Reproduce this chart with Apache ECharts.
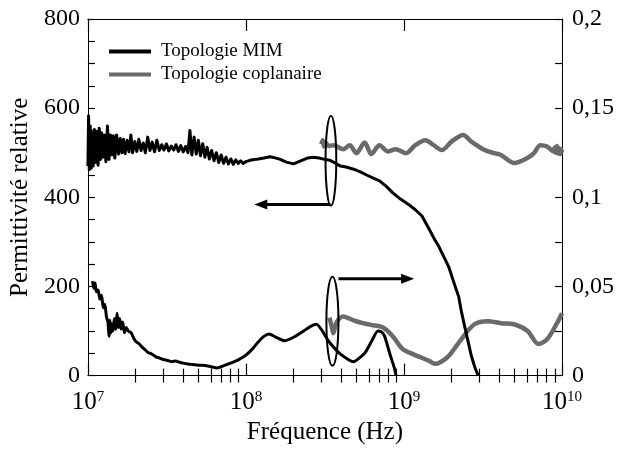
<!DOCTYPE html>
<html><head><meta charset="utf-8">
<script src="https://cdn.jsdelivr.net/npm/echarts@6/dist/echarts.min.js"></script>
<style>html,body{margin:0;padding:0;background:#fff}#c{width:619px;height:450px}</style>
</head><body><div id="c"></div>
<script>
const seriesNames = ['Topologie MIM', 'Topologie coplanaire'];
const xTitle = 'Fréquence (Hz)';
const yTitle = 'Permittivité relative';
const minorTicks = [2e7,3e7,4e7,5e7,6e7,7e7,8e7,9e7,2e8,3e8,4e8,5e8,6e8,7e8,8e8,9e8,2e9,3e9,4e9,5e9,6e9,7e9,8e9,9e9];

// MIM : permittivité relative (axe gauche)
const mimPermittivity = [
  [1.00e7,470],[1.01e7,583],[1.02e7,462],[1.035e7,560],[1.05e7,465],[1.065e7,545],[1.08e7,470],[1.10e7,552],
  [1.12e7,478],[1.14e7,548],[1.16e7,472],[1.18e7,555],[1.20e7,485],[1.22e7,545],[1.245e7,490],[1.27e7,540],
  [1.30e7,480],[1.33e7,560],[1.36e7,485],[1.39e7,540],[1.42e7,495],[1.45e7,538],[1.48e7,488],[1.52e7,540],
  [1.56e7,497],[1.60e7,532],[1.64e7,500],[1.68e7,530],[1.72e7,498],[1.77e7,528],[1.82e7,502],[1.87e7,540],
  [1.92e7,500],[1.98e7,525],[2.04e7,503],[2.10e7,530],[2.17e7,505],[2.24e7,522],[2.31e7,500],[2.39e7,535],
  [2.47e7,505],[2.55e7,524],[2.64e7,502],[2.73e7,528],[2.83e7,505],[2.93e7,518],[3.03e7,506],[3.14e7,520],
  [3.25e7,504],[3.37e7,515],[3.49e7,506],[3.61e7,518],[3.74e7,503],[3.87e7,516],[4.01e7,502],[4.15e7,514],
  [4.30e7,500],[4.42e7,550],[4.55e7,495],[4.70e7,535],[4.85e7,497],[5.00e7,528],[5.16e7,493],[5.33e7,520],
  [5.50e7,490],[5.68e7,512],[5.87e7,486],[6.07e7,505],[6.28e7,482],[6.50e7,500],[6.73e7,478],[6.97e7,495],
  [7.22e7,476],[7.48e7,490],[7.75e7,475],[8.03e7,486],[8.32e7,474],[8.62e7,484],[8.93e7,476],[9.25e7,482],
  [9.60e7,476],[1.00e8,480],[1.06e8,483],[1.13e8,485],[1.20e8,486],[1.30e8,488],[1.42e8,491],[1.51e8,489],
  [1.65e8,485],[1.80e8,479],[2.00e8,475],[2.20e8,481],[2.45e8,488],[2.68e8,490],[2.90e8,488],[3.15e8,485],
  [3.40e8,483],[3.70e8,476],[3.96e8,470],[4.30e8,468],[4.80e8,463],[5.30e8,457],[5.80e8,450],[6.40e8,443],
  [7.00e8,437],[7.70e8,425],[8.50e8,410],[9.50e8,396],[1.07e9,384],[1.18e9,372],[1.30e9,358],[1.45e9,327],
  [1.56e9,306],[1.66e9,290],[1.78e9,268],[1.92e9,244],[2.05e9,213],[2.22e9,177],[2.32e9,140],[2.42e9,111],
  [2.55e9,75],[2.67e9,44],[2.80e9,20],[2.95e9,0]
];

// MIM : tangente de pertes (axe droit)
const mimLoss = [
  [1.07e7,0.053],[1.09e7,0.049],[1.11e7,0.052],[1.13e7,0.047],[1.16e7,0.048],[1.19e7,0.043],[1.22e7,0.045],
  [1.25e7,0.038],[1.28e7,0.040],[1.31e7,0.033],[1.34e7,0.030],[1.36e7,0.022],[1.38e7,0.031],[1.40e7,0.024],
  [1.42e7,0.029],[1.44e7,0.025],[1.47e7,0.032],[1.50e7,0.026],[1.53e7,0.035],[1.56e7,0.027],[1.59e7,0.032],
  [1.62e7,0.026],[1.66e7,0.030],[1.70e7,0.024],[1.75e7,0.027],[1.80e7,0.025],[1.88e7,0.024],[1.95e7,0.021],
  [2.02e7,0.019],[2.10e7,0.018],[2.20e7,0.016],[2.30e7,0.0145],[2.40e7,0.013],[2.55e7,0.012],[2.70e7,0.0105],
  [2.85e7,0.0098],[3.00e7,0.009],[3.20e7,0.0085],[3.40e7,0.0078],[3.60e7,0.0082],[3.80e7,0.0075],[4.00e7,0.0070],
  [4.30e7,0.0065],[4.60e7,0.0062],[5.00e7,0.0058],[5.50e7,0.0057],[6.00e7,0.0050],[6.60e7,0.0043],[7.20e7,0.0055],
  [8.00e7,0.0070],[9.00e7,0.0090],[1.00e8,0.0115],[1.10e8,0.0150],[1.20e8,0.0190],[1.30e8,0.0220],[1.40e8,0.0233],
  [1.55e8,0.0215],[1.75e8,0.0195],[2.00e8,0.0215],[2.32e8,0.0250],[2.55e8,0.0275],[2.80e8,0.0288],[3.05e8,0.0250],
  [3.33e8,0.0194],[3.95e8,0.0122],[4.77e8,0.0078],[5.66e8,0.0127],[6.30e8,0.0200],[6.83e8,0.0250],[7.20e8,0.0245],
  [7.55e8,0.0220],[8.11e8,0.0127],[8.71e8,0.0040],[8.90e8,0.0]
];

// Coplanaire : permittivité relative (axe gauche)
const copPermittivity = [
  [3.00e8,519],[3.06e8,528],[3.12e8,514],[3.20e8,522],[3.35e8,515],[3.57e8,517],[4.13e8,508],[4.54e8,517],
  [5.00e8,499],[5.64e8,523],[6.21e8,497],[7.00e8,517],[7.88e8,503],[8.87e8,508],[1.03e9,499],[1.18e9,517],
  [1.37e9,528],[1.54e9,517],[1.74e9,506],[2.00e9,525],[2.37e9,540],[2.67e9,525],[3.24e9,506],[3.73e9,499],
  [4.11e9,495],[4.98e9,477],[6.03e9,488],[6.64e9,499],[7.30e9,517],[8.04e9,514],[8.85e9,503],[9.00e9,512],
  [9.15e9,500],[9.30e9,515],[9.45e9,498],[9.60e9,510],[9.75e9,497],[9.90e9,508],[1.00e10,500]
];

// Coplanaire : tangente de pertes (axe droit)
const copLoss = [
  [3.38e8,0.0325],[3.50e8,0.0270],[3.57e8,0.0238],[3.75e8,0.0300],[4.13e8,0.0332],[4.80e8,0.0310],[5.50e8,0.0294],
  [6.40e8,0.0282],[7.33e8,0.0271],[8.47e8,0.0222],[9.78e8,0.0150],[1.13e9,0.0122],[1.44e9,0.0083],[1.57e9,0.0066],
  [1.70e9,0.0075],[1.92e9,0.0110],[2.31e9,0.0205],[2.79e9,0.0288],[3.41e9,0.0305],[4.11e9,0.0294],[4.96e9,0.0288],
  [6.06e9,0.0250],[7.10e9,0.0177],[8.07e9,0.0205],[9.30e9,0.0294],[1.00e10,0.0350]
];

// Annotations (coordonnées en données)
const ellipsePerm = { fLeft: 3.19e8, fRight: 3.73e8, top: 583, bottom: 381 };
const ellipseLoss = { fLeft: 3.23e8, fRight: 3.85e8, top: 0.0554, bottom: 0.0055 };
const arrowPerm = { fFrom: 3.43e8, fTo: 1.13e8, y: 384 };
const arrowLoss = { fFrom: 3.85e8, fTo: 1.16e9, y: 0.0543 };

const FONT = 'Liberation Serif';
const BLACK = '#000000';
const GRAY = '#6a6a6a';

const chart = echarts.init(document.getElementById('c'), null, { renderer: 'canvas' });

// main log axis (decade ticks = default log ticks)
function decadeAxis(pos, showLabel) {
  return {
    type: 'log', logBase: 10, min: 1e7, max: 1e10, position: pos,
    axisLine: { show: true, onZero: false, lineStyle: { color: BLACK, width: 1 } },
    axisTick: { show: true, inside: true, length: 12, lineStyle: { color: BLACK, width: 1.2 } },
    axisLabel: showLabel ? {
      show: true, margin: 14, color: BLACK,
      fontFamily: FONT, fontSize: 25,
      formatter: v => '10{sup|' + Math.round(Math.log10(v)) + '}',
      rich: { sup: { fontFamily: FONT, fontSize: 15, verticalAlign: 'top', lineHeight: 26, color: BLACK } }
    } : { show: false },
    splitLine: { show: false }, minorTick: { show: false }
  };
}
// overlay axis in log10 units, used only to draw the 2..9 minor ticks
function minorAxis(pos) {
  return {
    type: 'value', min: 7, max: 10, position: pos,
    axisLine: { show: false },
    axisTick: { show: true, inside: true, length: 7, customValues: minorTicks.map(Math.log10),
      lineStyle: { color: BLACK, width: 1.2 } },
    axisLabel: { show: false }, splitLine: { show: false }, minorTick: { show: false }
  };
}

const option = {
  animation: false,
  backgroundColor: '#ffffff',
  grid: { left: 81, right: 57, top: 19, bottom: 70, containLabel: false },
  legend: {
    orient: 'vertical', left: 104, top: 37, itemGap: 4,
    icon: 'rect', itemWidth: 42, itemHeight: 4,
    textStyle: { fontFamily: FONT, fontSize: 19, color: BLACK, padding: [0, 0, 0, 5] },
    data: seriesNames
  },
  xAxis: [
    Object.assign(decadeAxis('bottom', true), {
      name: xTitle, nameLocation: 'middle', nameGap: 42,
      nameTextStyle: { fontFamily: FONT, fontSize: 25, color: BLACK }
    }),
    minorAxis('bottom'),
    decadeAxis('top', false),
    minorAxis('top')
  ],
  yAxis: [
    {
      type: 'value', min: 0, max: 800, interval: 200, position: 'left',
      name: yTitle, nameLocation: 'middle', nameGap: 38,
      nameTextStyle: { fontFamily: FONT, fontSize: 25, color: BLACK },
      axisLine: { show: true, lineStyle: { color: BLACK, width: 1 } },
      axisTick: { show: true, inside: true, length: 7, lineStyle: { color: BLACK, width: 1.2 } },
      minorTick: { show: true, splitNumber: 4, length: 7, lineStyle: { color: BLACK, width: 1.2 } },
      axisLabel: { margin: 8, fontFamily: FONT, fontSize: 24, color: BLACK },
      splitLine: { show: false }
    },
    {
      type: 'value', min: 0, max: 0.2, interval: 0.05, position: 'right',
      axisLine: { show: true, lineStyle: { color: BLACK, width: 1 } },
      axisTick: { show: true, inside: true, length: 7, lineStyle: { color: BLACK, width: 1.2 } },
      minorTick: { show: true, splitNumber: 2, length: 7, lineStyle: { color: BLACK, width: 1.2 } },
      axisLabel: {
        margin: 10, fontFamily: FONT, fontSize: 24, color: BLACK,
        formatter: v => (Math.round(v * 1000) / 1000).toString().replace('.', ',')
      },
      splitLine: { show: false }
    }
  ],
  series: [
    { name: seriesNames[1], type: 'line', xAxisIndex: 0, yAxisIndex: 0, data: copPermittivity, smooth: 0.3,
      showSymbol: false, color: GRAY, lineStyle: { color: GRAY, width: 4.5 }, z: 2 },
    { name: seriesNames[1], type: 'line', xAxisIndex: 0, yAxisIndex: 1, data: copLoss, smooth: 0.3,
      showSymbol: false, color: GRAY, lineStyle: { color: GRAY, width: 4.5 }, z: 2 },
    { name: seriesNames[0], type: 'line', xAxisIndex: 0, yAxisIndex: 0, data: mimPermittivity,
      showSymbol: false, color: BLACK, lineStyle: { color: BLACK, width: 3, join: 'round' }, z: 3 },
    { name: seriesNames[0], type: 'line', xAxisIndex: 0, yAxisIndex: 1, data: mimLoss, smooth: 0.2,
      showSymbol: false, color: BLACK, lineStyle: { color: BLACK, width: 3, join: 'round' }, z: 3 }
  ]
};
chart.setOption(option);

function px(f, v, yi) { return chart.convertToPixel({ xAxisIndex: 0, yAxisIndex: yi }, [f, v]); }
function ellipseEl(e, yi) {
  const a = px(e.fLeft, e.top, yi), b = px(e.fRight, e.bottom, yi);
  return { type: 'ellipse', z: 10,
    shape: { cx: (a[0] + b[0]) / 2, cy: (a[1] + b[1]) / 2, rx: Math.abs(b[0] - a[0]) / 2, ry: Math.abs(b[1] - a[1]) / 2 },
    style: { fill: 'none', stroke: BLACK, lineWidth: 2 } };
}
function arrowEls(ar, yi) {
  const a = px(ar.fFrom, ar.y, yi), b = px(ar.fTo, ar.y, yi);
  const dir = Math.sign(b[0] - a[0]);
  const headLen = 13, headHalf = 5;
  return [
    { type: 'line', z: 10, shape: { x1: a[0], y1: a[1], x2: b[0] - dir * headLen * 0.6, y2: b[1] },
      style: { stroke: BLACK, lineWidth: 3 } },
    { type: 'polygon', z: 10, shape: { points: [[b[0], b[1]], [b[0] - dir * headLen, b[1] - headHalf], [b[0] - dir * headLen, b[1] + headHalf]] },
      style: { fill: BLACK } }
  ];
}
chart.setOption({ graphic: [ellipseEl(ellipsePerm, 0), ellipseEl(ellipseLoss, 1)]
  .concat(arrowEls(arrowPerm, 0)).concat(arrowEls(arrowLoss, 1)) });
</script></body></html>
